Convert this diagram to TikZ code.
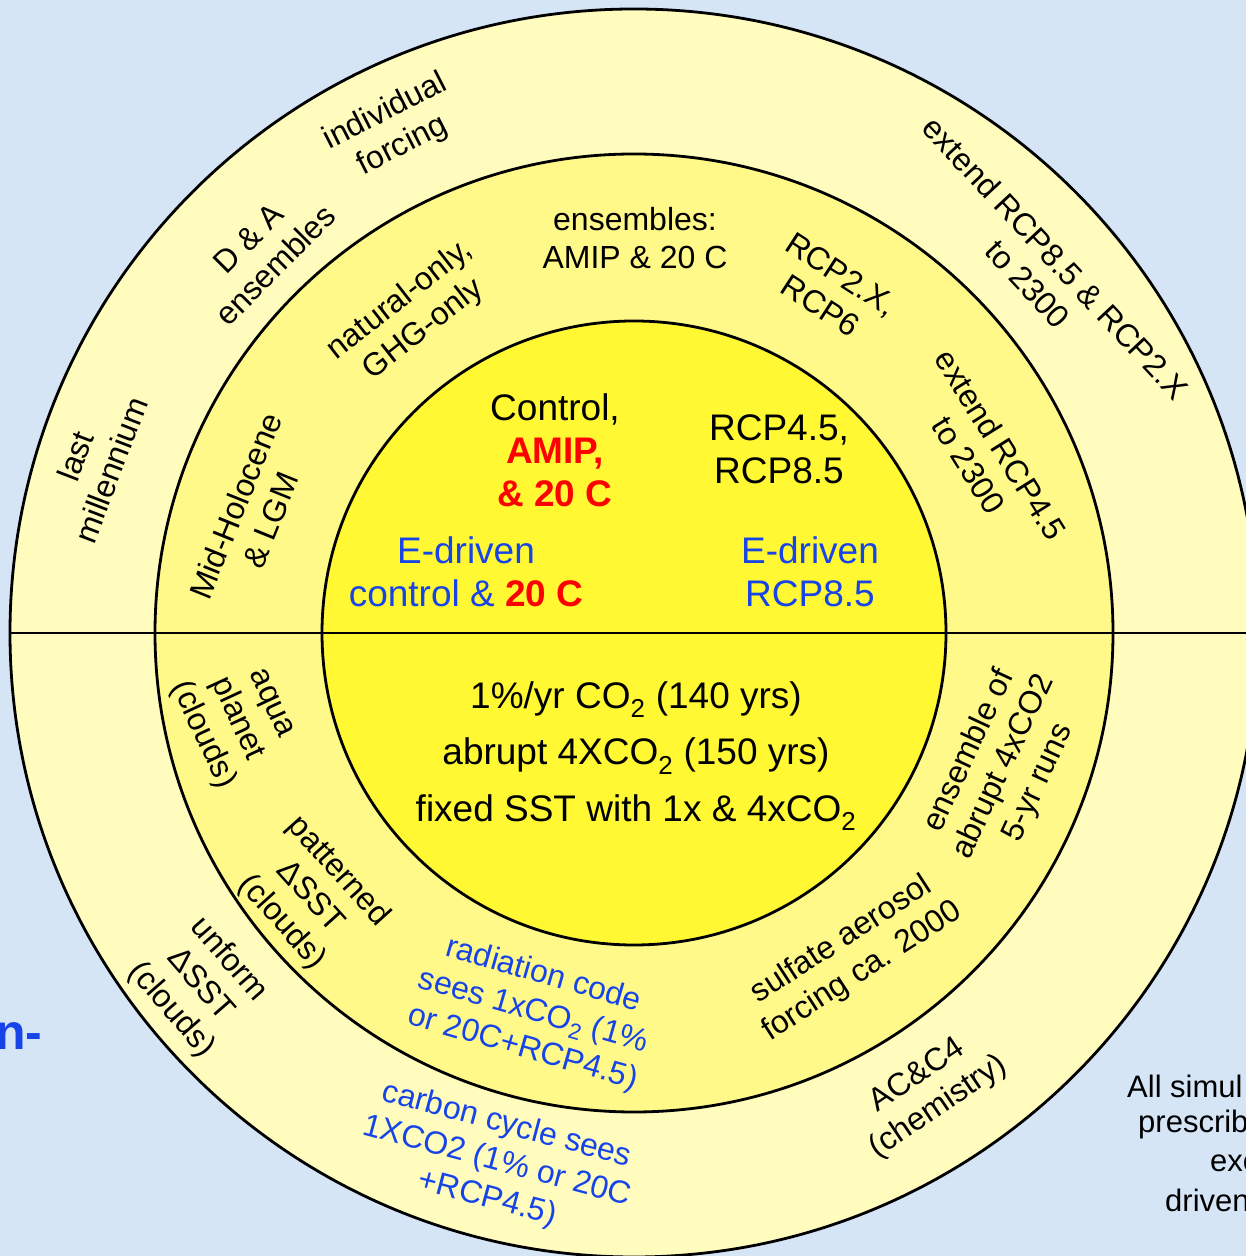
\documentclass[tikz,border=0pt]{standalone}
\usepackage{fontspec}
\setmainfont{Liberation Sans}
\definecolor{bg}{RGB}{214,229,245}
\definecolor{ringout}{RGB}{255,252,190}
\definecolor{ringmid}{RGB}{255,249,138}
\definecolor{core}{RGB}{255,248,51}
\definecolor{redc}{RGB}{255,0,0}
\definecolor{bluec}{RGB}{22,68,232}
\tikzset{
  ring/.style={font=\fontsize{32}{38}\selectfont, align=center, inner sep=0pt},
  coretext/.style={font=\fontsize{37}{43}\selectfont, align=center, inner sep=0pt},
  outline/.style={draw=black, line width=2.8pt},
  sidetext/.style={font=\fontsize{31}{38}\selectfont, inner sep=0pt, anchor=base west}
}
\begin{document}
\begin{tikzpicture}[x=1pt,y=1pt]
\useasboundingbox (0,0) rectangle (1246,1256);
\clip (0,0) rectangle (1246,1256);
\fill[bg] (0,0) rectangle (1246,1256);
\coordinate (C) at (634,623);
\coordinate (L) at (10,623);
\coordinate (R) at (1250,623);
% rings
\filldraw[fill=ringout, outline] (C) circle[radius=624pt];
\filldraw[fill=ringmid, outline] (C) circle[radius=479pt];
\filldraw[fill=core, outline] (C) circle[radius=312pt];
\draw[outline] (L) -- (R);

% outer ring, top half
\node[ring, rotate=27] (indiv) at (394,1127) {individual\\forcing};
\node[ring, rotate=45] (dna) at (262,1004) {D \& A\\ensembles};
\node[ring, rotate=69] (lastm) at (93,793) {last\\millennium};
\node[ring, rotate=-47] (ext85) at (1042,985) {extend RCP8.5 \& RCP2.X\\to 2300};
% outer ring, bottom half
\node[ring, rotate=-49] (unif) at (200,271) {unform\\ΔSST\\(clouds)};
\node[ring, rotate=-15, text=bluec] (carbon) at (497,94) {carbon cycle sees\\1XCO2 (1\% or 20C\\+RCP4.5)};
\node[ring, rotate=34] (acc4) at (928,164) {AC\&C4\\(chemistry)};

% middle ring, top half
\node[ring] (ensam) at (635,1018) {ensembles:\\AMIP \& 20 C};
\node[ring, rotate=38] (natghg) at (412,941) {natural-only,\\GHG-only};
\node[ring, rotate=68] (midhol) at (253,743) {Mid-Holocene\\\& LGM};
\node[ring, rotate=-33] (rcp2x) at (831,966) {RCP2.X,\\RCP6};
\node[ring, rotate=-58] (ext45) at (985,801) {extend RCP4.5\\to 2300};
% middle ring, bottom half
\node[ring, rotate=-65] (aqua) at (235,536) {aqua\\planet\\(clouds)};
\node[ring, rotate=-48] (patt) at (310,359) {patterned\\ΔSST\\(clouds)};
\node[ring, rotate=-16, text=bluec] (radcode) at (533,244) {radiation code\\sees 1xCO\textsubscript{2} (1\%\\or 20C+RCP4.5)};
\node[ring, rotate=33] (sulf) at (852,300) {sulfate aerosol\\forcing ca. 2000};
\node[ring, rotate=65] (ens4x) at (1004,489) {ensemble of\\abrupt 4xCO2\\5-yr runs};

% core
\node[coretext] (ctrl) at (555,806) {Control,\\\textcolor{redc}{\bfseries AMIP,}\\\textcolor{redc}{\bfseries \& 20 C}};
\node[coretext] (edrvc) at (466,684) {\textcolor{bluec}{E-driven}\\\textcolor{bluec}{control \&} \textcolor{redc}{\bfseries 20 C}};
\node[coretext] (rcp) at (779,807) {RCP4.5,\\RCP8.5};
\node[coretext, text=bluec] (edrv85) at (810,684) {E-driven\\RCP8.5};
\node[coretext, font=\fontsize{37}{56.5}\selectfont] (co2) at (636,500) {1\%/yr CO\textsubscript{2} (140 yrs)\\abrupt 4XCO\textsubscript{2} (150 yrs)\\fixed SST with 1x \& 4xCO\textsubscript{2}};

% fragments of surrounding slide text
\node[inner sep=0pt, anchor=base west, font=\fontsize{50}{56}\selectfont\bfseries, text=bluec] (frag) at (-5,206) {n-};
\node[sidetext] (s1) at (1127,158) {All simul};
\node[sidetext] (s2) at (1138,123) {prescrib};
\node[sidetext] (s3) at (1210,84) {exc};
\node[sidetext] (s4) at (1165,44) {driven};
\end{tikzpicture}
\end{document}
